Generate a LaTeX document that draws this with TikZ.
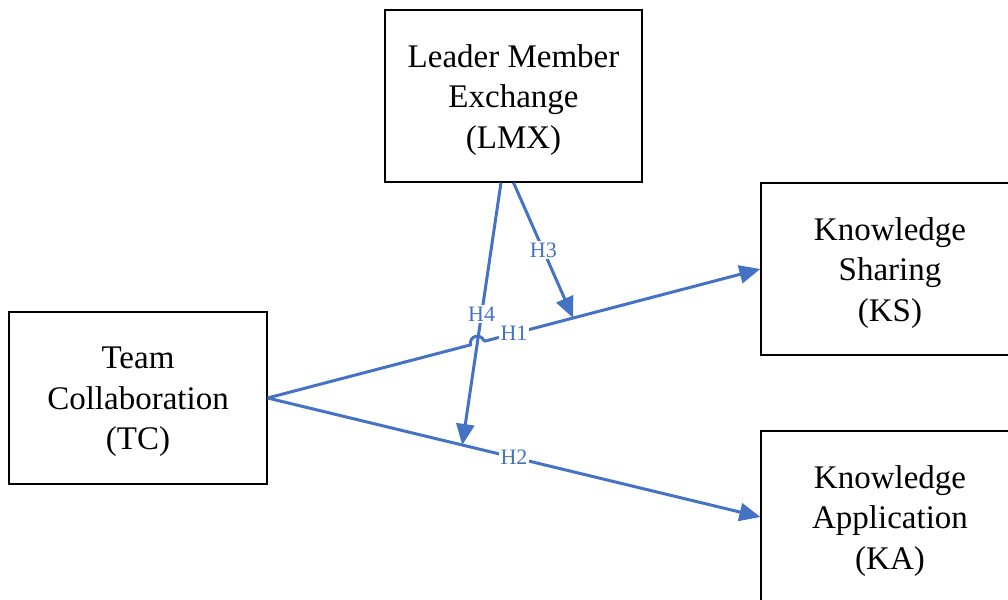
\documentclass[tikz,border=0pt]{standalone}
\usepackage{fontspec}
\setmainfont{Liberation Serif}
\usetikzlibrary{arrows.meta,calc}
\definecolor{lnblue}{HTML}{4472C4}
\tikzset{
  box/.style={draw=black, line width=1.2pt, minimum width=258pt, minimum height=172pt, inner sep=0pt},
  boxtext/.style={align=center, font=\fontsize{33}{40.5}\selectfont, inner sep=0pt},
  link/.style={draw=lnblue, line width=3pt},
  arr/.style={link, -{Triangle[length=21pt,width=18pt]}},
  lbl/.style={fill=white, text=lnblue, font=\fontsize{22}{24}\selectfont, inner sep=1.5pt}
}
\begin{document}
\begin{tikzpicture}[x=1pt,y=1pt]
\useasboundingbox (0,0) rectangle (1008,599);
\node[box, minimum width=257pt] (lmx) at (513.5,503) {};
\node[box] (tc) at (138,201) {};
\node[box] (ks) at (890,330) {};
\node[box] (ka) at (890,82) {};
\node[boxtext] (lmxt) at ([yshift=-4pt]lmx.center) {Leader Member\\Exchange\\(LMX)};
\node[boxtext] (tct) at ([yshift=-4pt]tc.center) {Team\\Collaboration\\(TC)};
\node[boxtext] (kst) at ([yshift=-4pt]ks.center) {Knowledge\\Sharing\\(KS)};
\node[boxtext] (kat) at ([yshift=-4pt]ka.center) {Knowledge\\Application\\(KA)};
% targets on the main paths
\coordinate (h3end) at ($(tc.east)!0.62!(ks.west)$);
\coordinate (h4end) at ($(tc.east)!0.395!(ka.west)$);
\coordinate (h4start) at ($(lmx.south)+(-12.5,0)$);
\coordinate (h3start) at (lmx.south);
\coordinate (cross) at (intersection of tc.east--ks.west and h4start--h4end);
\coordinate (ja) at ($(cross)!7pt!(tc.east)$);
\coordinate (jb) at ($(cross)!7pt!(ks.west)$);
% H1 with a jump over H4
\draw[link] (tc.east) -- (ja) arc[start angle=194.5, end angle=14.5, radius=7pt];
\draw[arr] (jb) -- (ks.west);
\path (tc.east) -- node[lbl] (l1) {H1} (ks.west);
% H2
\draw[arr] (tc.east) -- node[lbl] (l2) {H2} (ka.west);
% H3
\draw[arr] (h3start) -- node[lbl] (l3) {H3} (h3end);
% H4
\draw[arr] (h4start) -- node[lbl] (l4) {H4} (h4end);
\end{tikzpicture}
\end{document}
